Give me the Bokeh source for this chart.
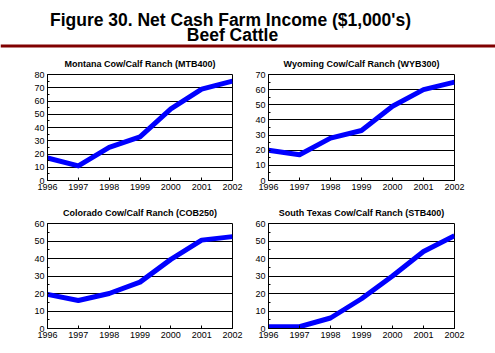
from bokeh.plotting import figure
from bokeh.layouts import column, row
from bokeh.models import Range1d, Span, Label, FixedTicker, SingleIntervalTicker
from bokeh.embed import file_html
from bokeh.resources import INLINE

# ---- data ----
years = [1996, 1997, 1998, 1999, 2000, 2001, 2002]
year_labels = ["1996", "1997", "1998", "1999", "2000", "2001", "2002"]
montana = [17, 11, 25, 33, 54, 69, 75]
wyoming = [20, 17, 28, 33, 49, 60, 65]
colorado = [19.5, 16, 20, 26.5, 39.5, 50.5, 52.5]
south_texas = [1, 1, 6, 17, 30, 44, 53]

main_title = "Figure 30. Net Cash Farm Income ($1,000's)"
sub_title = "Beef Cattle"
panel_titles = ["Montana Cow/Calf Ranch (MTB400)", "Wyoming Cow/Calf Ranch (WYB300)",
                "Colorado Cow/Calf Ranch (COB250)", "South Texas Cow/Calf Ranch (STB400)"]
y_max = [80, 70, 60, 60]

LINE_COLOR = "#0000FF"
FONT = "Liberation Sans"

# ---- header ----
hdr = figure(width=495, height=50, x_range=Range1d(0, 495), y_range=Range1d(0, 50),
             output_backend="svg", toolbar_location=None, x_axis_type=None, y_axis_type=None,
             min_border=0, min_border_left=0, min_border_right=0, min_border_top=0, min_border_bottom=0)
hdr.grid.visible = False
hdr.outline_line_color = None
hdr.add_layout(Label(x=230, y=31, text=main_title,
                     text_font=FONT, text_font_style="bold", text_font_size="17.5px",
                     text_align="center", text_baseline="alphabetic", text_color="black"))
hdr.add_layout(Label(x=232, y=16, text=sub_title,
                     text_font=FONT, text_font_style="bold", text_font_size="17.5px",
                     text_align="center", text_baseline="alphabetic", text_color="black"))
hdr.add_layout(Span(location=4.5, dimension="width", line_color="#800000", line_width=3))


def panel(title, vals, ymax, w, h, left, right, top, bottom):
    p = figure(width=w, height=h, x_range=Range1d(1996, 2002), y_range=Range1d(0, ymax),
               output_backend="svg", toolbar_location=None,
               min_border_left=left, min_border_right=right,
               min_border_top=top, min_border_bottom=bottom)
    p.title.text = title
    p.title.align = "center"
    p.title.text_font = FONT
    p.title.text_font_style = "bold"
    p.title.text_font_size = "9px"
    p.title.text_color = "black"
    p.title.standoff = 11
    p.title.offset = 0
    p.outline_line_color = "black"
    p.outline_line_alpha = 1
    p.xgrid.visible = False
    p.ygrid.grid_line_color = "black"
    p.ygrid.grid_line_alpha = 1
    p.ygrid.ticker = SingleIntervalTicker(interval=10, num_minor_ticks=2)
    p.xaxis.ticker = FixedTicker(ticks=years)
    p.xaxis.major_label_overrides = {y: s for y, s in zip(years, year_labels)}
    p.yaxis.ticker = SingleIntervalTicker(interval=10, num_minor_ticks=2)
    for ax in (p.xaxis, p.yaxis):
        ax.axis_line_color = "black"
        ax.major_tick_line_color = "black"
        ax.minor_tick_line_color = "black"
        ax.major_label_text_font = FONT
        ax.major_label_text_font_size = "9px"
        ax.major_label_text_color = "black"
        ax.major_label_standoff = 3
        ax.major_tick_out = 0
        ax.minor_tick_out = 0
    p.xaxis.major_tick_in = 3
    p.xaxis.minor_tick_line_color = None
    p.yaxis.major_tick_in = 0
    p.yaxis.minor_tick_in = 2
    p.line(years, vals, line_color=LINE_COLOR, line_width=5, line_join="round")
    return p


p1 = panel(panel_titles[0], montana, y_max[0], 250, 150, 47, 18, 24, 20)
p2 = panel(panel_titles[1], wyoming, y_max[1], 245, 150, 18, 41, 24, 20)
p3 = panel(panel_titles[2], colorado, y_max[2], 250, 153, 47, 18, 23, 25)
p4 = panel(panel_titles[3], south_texas, y_max[3], 245, 153, 18, 41, 23, 25)

layout = column(hdr, row(p1, p2, spacing=0), row(p3, p4, spacing=0), spacing=0)

open("out.html", "w").write(file_html(layout, INLINE))
